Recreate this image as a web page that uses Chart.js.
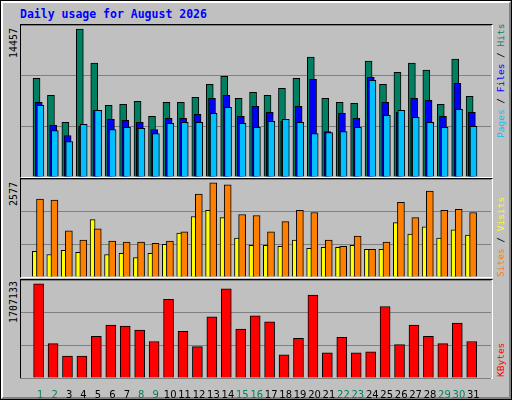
<!DOCTYPE html>
<html><head><meta charset="utf-8">
<script src="https://cdn.jsdelivr.net/npm/chart.js@4/dist/chart.umd.min.js"></script>
<style>
body{margin:0;background:#fff}
#w{position:absolute;left:0;top:0;width:510px;height:398px;border:1px solid #000;background:#c0c0c0}
#in{position:absolute;left:0;top:0;width:506px;height:394px;border-top:2px solid #fff;border-left:2px solid #fff;border-right:2px solid #808080;border-bottom:2px solid #808080}
.p{position:absolute;box-sizing:border-box;border-left:1px solid #000;border-top:1px solid #000;border-right:1px solid #fff;border-bottom:1px solid #fff}
.v{position:absolute;transform-origin:0 0;transform:rotate(-90deg);white-space:nowrap;font-family:"DejaVu Sans Mono",monospace;line-height:10px}
canvas{position:absolute}
</style></head><body>
<div id="w"><div id="in"></div></div>
<div style="position:absolute;left:20px;top:7px;font:bold 11.5px 'DejaVu Sans Mono',monospace;color:#0000ff">Daily usage for August 2026</div>
<div class="p" style="left:20px;top:24px;width:473px;height:154px"></div>
<div class="p" style="left:20px;top:178px;width:473px;height:100px"></div>
<div class="p" style="left:20px;top:279px;width:473px;height:100px"></div>
<canvas id="c1" width="470" height="152" style="left:21px;top:25px"></canvas>
<canvas id="c2" width="470" height="98" style="left:21px;top:179px"></canvas>
<canvas id="c3" width="470" height="120" style="left:21px;top:280px"></canvas>
<div class="v" style="left:9px;top:58px;font-size:10px">14457</div>
<div class="v" style="left:9px;top:206px;font-size:10px">2577</div>
<div class="v" style="left:9px;top:323px;font-size:10px">1707133</div>
<div class="v" style="left:496px;top:138px;font-size:9.5px"><span style="color:#00c0ff">Pages</span> / <span style="color:#0000ff">Files</span> / <span style="color:#008060">Hits</span></div>
<div class="v" style="left:496px;top:277px;font-size:9.5px"><span style="color:#ff8000">Sites</span> / <span style="color:#ffff00">Visits</span></div>
<div class="v" style="left:496px;top:377px;font-size:9.5px"><span style="color:#ff0000">KBytes</span></div>
<script>
const days=[1,2,3,4,5,6,7,8,9,10,11,12,13,14,15,16,17,18,19,20,21,22,23,24,25,26,27,28,29,30,31];
const weekend=[1,2,8,9,15,16,22,23,29,30];
const hits=[9649,7981,5332,14457,11121,7000,7098,7392,5921,7294,7294,7785,9061,9846,7687,8276,7981,8668,9649,11710,7687,7294,7196,11318,9061,10238,11121,10434,7098,11514,7883];
const files=[7294,5037,4056,4939,6509,5626,5528,5332,4645,5724,5724,6117,7687,7981,5921,6902,6313,5430,6902,9551,4449,6215,5724,9748,7294,6313,7687,7491,5921,9159,6313];
const pages=[7000,4547,3467,5135,6509,4645,4841,4743,4252,5234,5332,5332,6215,6804,5234,4841,5430,5626,5332,4252,4350,4449,4841,9453,6019,6509,5822,5332,4841,6607,4939];
const visits=[2129,2101,1260,1008,1317,980,952,952,924,980,1232,2269,2577,2521,1709,1681,1232,1513,1821,1765,1008,840,1120,756,952,2045,1625,2353,1821,1849,1765];
const sites=[700,616,728,672,1569,616,644,532,644,896,1204,1653,1821,1625,1064,868,868,840,1008,784,812,812,868,756,756,1485,1176,1373,1064,1289,1148];
const kbytes=[1707133,623000,398700,398700,753800,959400,940700,866000,660400,1426700,847300,566900,1108900,1613600,884700,1127600,1015500,417400,716500,1501400,454800,735100,454800,473500,1295800,604300,959400,753800,623000,996800,660400];

const pts=(arr,off)=>arr.map((v,i)=>({x:days[i]+off,y:v}));
const ds=(label,arr,off,color,w)=>({label,data:pts(arr,off),backgroundColor:color,borderColor:'#000',borderWidth:1,barThickness:w,borderSkipped:'start',grouped:false});
function make(id,datasets,max,showX){
  return new Chart(document.getElementById(id),{type:'bar',data:{datasets},
    options:{responsive:false,animation:false,devicePixelRatio:1,layout:{padding:0},grouped:false,
      plugins:{legend:{display:false},tooltip:{enabled:false}},
      scales:{
        x:{type:'linear',min:0.196,max:31.7,display:showX,grid:{display:false},border:{display:false},
          afterBuildTicks:s=>{s.ticks=days.map(d=>({value:d}));},
          afterFit:s=>{s.height=showX?22:0;},
          ticks:{padding:3,autoSkip:false,maxRotation:0,font:{family:'DejaVu Sans',size:10},
            color:c=>weekend.includes(c.tick.value)?'#008060':'#000',callback:v=>String(v)}},
        y:{min:0,max:max,display:true,afterFit:s=>{s.width=0;},ticks:{display:false,stepSize:max/3},
          grid:{color:'#808080',lineWidth:1,drawTicks:false},border:{display:false}}
      }}});
}
make('c1',[ds('Pages',pages,0.013,'#00c0ff',7),ds('Files',files,-0.1,'#0000ff',7),ds('Hits',hits,-0.255,'#008060',7)],14850,false);
make('c2',[ds('Visits',visits,-0.013,'#ff8000',7),ds('Sites',sites,-0.37,'#ffff00',5)],2680,false);
make('c3',[ds('KBytes',kbytes,-0.11,'#ff0000',10)],1775000,true);
</script>
</body></html>
